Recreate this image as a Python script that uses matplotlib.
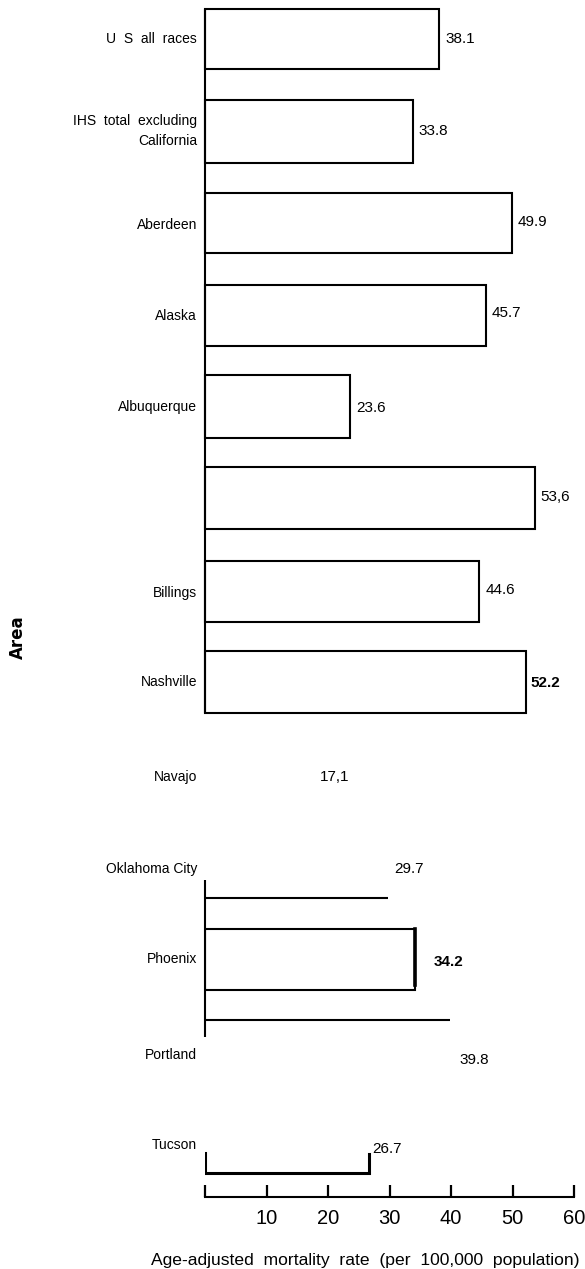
import matplotlib
matplotlib.use("Agg")
from matplotlib import pyplot as plt

plt.rcParams['font.family'] = ['Liberation Sans', 'DejaVu Sans']

# Data
areas = ["U  S  all  races", "IHS  total  excluding\nCalifornia", "Aberdeen", "Alaska",
         "Albuquerque", "", "Billings", "Nashville", "Navajo", "Oklahoma City",
         "Phoenix", "Portland", "Tucson"]
rates = [38.1, 33.8, 49.9, 45.7, 23.6, 53.6, 44.6, 52.2, 17.1, 29.7, 34.2, 39.8, 26.7]
rate_text = ["38.1", "33.8", "49.9", "45.7", "23.6", "53,6", "44.6", "52.2",
             "17,1", "29.7", "34.2", "39.8", "26.7"]
x_ticks = [0, 10, 20, 30, 40, 50, 60]
x_tick_labels = ["", "10", "20", "30", "40", "50", "60"]

# Layout (vertical positions in pixel rows of the page)
W, H = 585, 1269
axis_y = 1197
bar_top = [9, 100, 193, 285, 375, 467, 561, 651]
bar_bot = [69, 163, 253, 346, 438, 529, 622, 713]
label_y = [39, 131, 225, 316, 407, 497, 593, 682, 777, 869, 959, 1055, 1145]
value_y = [39, 131, 222, 313, 408, 497, 590, 683, 777, 869, 962, 1060, 1149]
value_dx = [6, 6, 6, 6, 6, 6, 6, 4, 10, 7, 18, 10, 3]

fig = plt.figure(figsize=(W / 100, H / 100), dpi=100)
ax = fig.add_axes([205 / W, (H - axis_y) / H, 369 / W, axis_y / H])
ax.set_xlim(0, 60)
ax.set_ylim(axis_y, 0)

lw = 1.5
# upper block of outlined bars
for i in range(8):
    ax.barh((bar_top[i] + bar_bot[i]) / 2, rates[i], height=bar_bot[i] - bar_top[i],
            left=0, facecolor='white', edgecolor='black', linewidth=lw, clip_on=False)

# broken left axis line
ax.vlines(0, 9, 713, color='black', linewidth=lw, clip_on=False)
ax.vlines(0, 880, 1037, color='black', linewidth=lw, clip_on=False)

# lower, partly lost part of the scan
ax.hlines(898, 0, rates[9], color='black', linewidth=lw)
ax.barh((929 + 990) / 2, rates[10], height=990 - 929, left=0,
        facecolor='white', edgecolor='black', linewidth=lw)
ax.plot([rates[10], rates[10]], [929, 985], color='black', linewidth=2.6)
ax.hlines(1020, 0, rates[11], color='black', linewidth=lw)
ax.plot([0, 0, rates[12], rates[12]], [1153, 1173, 1173, 1154],
        color='black', linewidth=2.2, solid_joinstyle='miter')

# category labels
for name, y in zip(areas, label_y):
    if name:
        ax.annotate(name, xy=(0, y), xytext=(-8, 0), textcoords='offset pixels',
                    ha='right', va='center', fontsize=10, linespacing=1.6,
                    annotation_clip=False)

# value labels
for i, (v, t) in enumerate(zip(rates, rate_text)):
    bold = 'bold' if t in ("34.2", "52.2") else 'normal'
    ax.annotate(t, xy=(v, value_y[i]), xytext=(value_dx[i], 0), textcoords='offset pixels',
                ha='left', va='center', fontsize=11, fontweight=bold,
                annotation_clip=False)

# x axis
for s in ('left', 'top', 'right'):
    ax.spines[s].set_visible(False)
ax.spines['bottom'].set_linewidth(lw)
ax.set_xticks(x_ticks)
ax.set_xticklabels(x_tick_labels, fontsize=14.5)
ax.tick_params(axis='x', direction='in', length=9, width=1.6, pad=9)
ax.set_yticks([])

fig.text(580 / W, 1 - 1261 / H,
         "Age-adjusted  mortality  rate  (per  100,000  population)",
         ha='right', va='center', fontsize=12.6)
fig.text(18 / W, 1 - 637 / H, "Area", rotation=90, ha='center', va='center',
         fontsize=12, fontweight='bold', family='DejaVu Sans')

fig.savefig("out.png", dpi=100)
